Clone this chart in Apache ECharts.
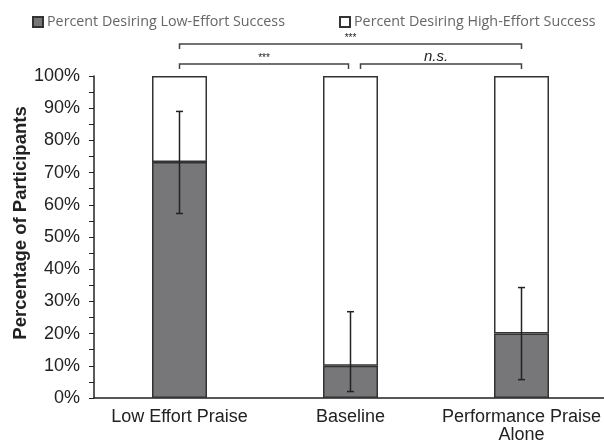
<!DOCTYPE html>
<html>
<head>
<meta charset="utf-8">
<script src="https://cdn.jsdelivr.net/npm/echarts@6/dist/echarts.min.js"></script>
<style>
  html, body { margin: 0; padding: 0; background: #fff; overflow: hidden; }
  #chart { width: 604px; height: 441px; }
</style>
</head>
<body>
<div id="chart"></div>
<script>
// Conditions on the x axis
const categories = ['Low Effort Praise', 'Baseline', 'Performance Praise\nAlone'];
// Share of participants (%) preferring low-effort success
const lowEffort = [73.3, 10, 20];
// Confidence interval bounds (%) for the low-effort share
const ciLow = [57.3, 2, 5.7];
const ciHigh = [89, 26.8, 34.3];
// Significance brackets between conditions
const bracketFrom = [0, 1, 0];
const bracketTo = [1, 2, 2];
const bracketLevel = [0, 0, 1];
const bracketLabel = ['***', 'n.s.', '***'];
// Y tick labels
const yTicks = ['0%', '10%', '20%', '30%', '40%', '50%', '60%', '70%', '80%', '90%', '100%'];

const highEffort = lowEffort.map(v => +(100 - v).toFixed(1));

const chart = echarts.init(document.getElementById('chart'));

const errorData = categories.map((c, i) => [i, ciLow[i], ciHigh[i]]);
const bracketData = bracketFrom.map((f, i) => [f, bracketTo[i], bracketLevel[i], i]);

const legendText = { color: '#666', fontSize: 14.3, fontFamily: 'Open Sans', padding: [0, 0, 0, -1] };

const option = {
  animation: false,
  backgroundColor: '#fff',
  // the plot area runs slightly past the right edge of the page
  grid: { left: 94, top: 76, right: -3, bottom: 43, containLabel: false, outerBoundsMode: 'none' },
  legend: [
    {
      left: 32, top: 15, padding: 0,
      icon: 'rect', itemWidth: 10, itemHeight: 10, itemGap: 4,
      data: ['Percent Desiring Low-Effort Success'],
      textStyle: legendText
    },
    {
      left: 339, top: 15, padding: 0,
      icon: 'rect', itemWidth: 10, itemHeight: 10, itemGap: 4,
      data: ['Percent Desiring High-Effort Success'],
      textStyle: legendText
    }
  ],
  xAxis: {
    type: 'category',
    data: categories,
    axisLine: { lineStyle: { color: '#222', width: 1.5 } },
    axisTick: { show: false },
    axisLabel: { color: '#222', fontSize: 18, fontFamily: 'Liberation Sans', margin: 10, lineHeight: 18, interval: 0 }
  },
  yAxis: {
    type: 'value', min: 0, max: 100, interval: 10,
    axisLine: { show: true, lineStyle: { color: '#222', width: 1.5 } },
    axisTick: { show: true, length: 5, lineStyle: { color: '#222', width: 1 } },
    minorTick: { show: true, splitNumber: 2, length: 5, lineStyle: { color: '#222', width: 1 } },
    splitLine: { show: false },
    axisLabel: {
      color: '#222', fontSize: 18, fontFamily: 'Liberation Sans', margin: 14,
      formatter: v => yTicks[Math.round(v / 10)]
    }
  },
  graphic: [{
    type: 'text', rotation: Math.PI / 2,
    x: 21, y: 223,
    style: {
      text: 'Percentage of Participants', fill: '#222',
      font: 'bold 18.5px "Liberation Sans"', textAlign: 'center', textVerticalAlign: 'middle'
    }
  }],
  series: [
    {
      name: 'Percent Desiring Low-Effort Success', type: 'bar', stack: 'total',
      data: lowEffort, barWidth: 55,
      itemStyle: { color: '#77777a', borderColor: '#333', borderWidth: 1.5 }
    },
    {
      name: 'Percent Desiring High-Effort Success', type: 'bar', stack: 'total',
      data: highEffort, barWidth: 55,
      itemStyle: { color: '#fff', borderColor: '#333', borderWidth: 1.5 }
    },
    {
      type: 'custom', name: 'ci', silent: true, z: 5,
      data: errorData,
      renderItem: (params, api) => {
        const lo = api.coord([api.value(0), api.value(1)]);
        const hi = api.coord([api.value(0), api.value(2)]);
        const cap = 3.5;
        const st = { stroke: '#222', lineWidth: 1.5 };
        return {
          type: 'group',
          children: [
            { type: 'line', shape: { x1: lo[0], y1: lo[1], x2: hi[0], y2: hi[1] }, style: st },
            { type: 'line', shape: { x1: lo[0] - cap, y1: lo[1], x2: lo[0] + cap, y2: lo[1] }, style: st },
            { type: 'line', shape: { x1: hi[0] - cap, y1: hi[1], x2: hi[0] + cap, y2: hi[1] }, style: st }
          ]
        };
      }
    },
    {
      type: 'custom', name: 'sig', silent: true, clip: false, z: 5,
      data: bracketData,
      renderItem: (params, api) => {
        const from = api.value(0), to = api.value(1), level = api.value(2), idx = api.value(3);
        const top = api.coord([0, 100])[1];
        const y = top - 12 - level * 20;
        let x1 = api.coord([from, 100])[0];
        let x2 = api.coord([to, 100])[0];
        if (level === 0 && from === 1) x1 += 10;
        if (level === 0 && to === 1) x2 -= 2;
        const st = { stroke: '#444', lineWidth: 1.5, fill: null };
        const label = bracketLabel[idx];
        const italic = label !== '***';
        return {
          type: 'group',
          children: [
            { type: 'polyline', shape: { points: [[x1, y + 5], [x1, y], [x2, y], [x2, y + 5]] }, style: st },
            {
              type: 'text',
              x: (x1 + x2) / 2 - (italic ? 5 : 0), y: y - (italic ? 7 : 6),
              style: {
                text: label, fill: '#222',
                font: italic ? 'italic 15px "Liberation Sans"' : '10px "Liberation Sans"',
                textAlign: 'center', textVerticalAlign: 'middle'
              }
            }
          ]
        };
      }
    }
  ]
};

chart.setOption(option);
</script>
</body>
</html>
